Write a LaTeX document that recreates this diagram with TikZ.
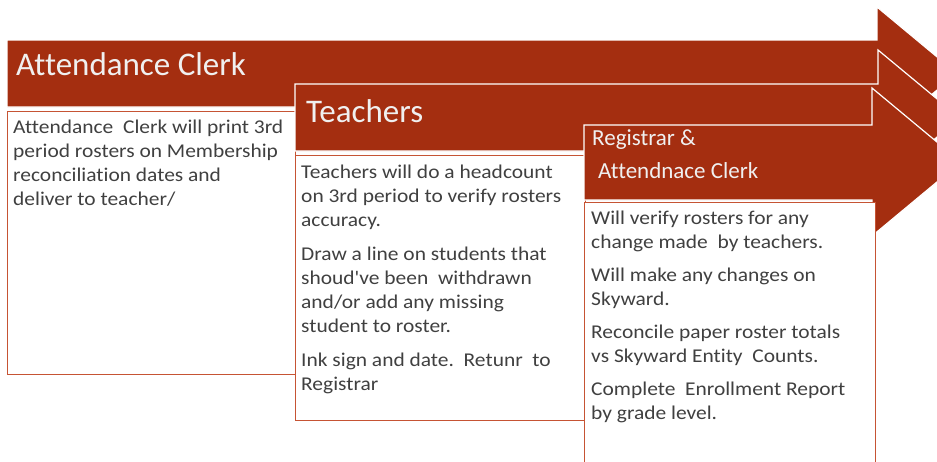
\documentclass[tikz,border=0pt]{standalone}
\usepackage{fontspec}
\setmainfont[Ligatures=NoCommon]{Carlito}
\newfontfamily\notefont[FakeStretch=1.1,Ligatures=NoCommon]{Carlito}
\definecolor{rust}{RGB}{164,46,16}
\definecolor{rustline}{RGB}{198,84,52}
\definecolor{inkgray}{RGB}{64,64,64}
\begin{document}
\begin{tikzpicture}[x=1pt,y=-1pt,
    band/.style={fill=rust,draw=white,line width=1.2pt},
    notebox/.style={fill=white,draw=rustline,line width=1pt},
    bigtitle/.style={anchor=base west,inner sep=0pt,text=white!94!black,font=\fontsize{33}{38}\selectfont},
    smalltitle/.style={anchor=base west,inner sep=0pt,text=white!94!black,font=\fontsize{23}{28}\selectfont},
    notetext/.style={anchor=base west,inner sep=0pt,align=left,text=inkgray,font=\notefont\fontsize{19.5}{24}\selectfont}]

    \useasboundingbox (0,0) rectangle (937,461);
    \clip (0,0) rectangle (937,461);

    % first step
    \draw[band] (7,40) -- (877,40) -- (877,7) -- (957,73.5) -- (877,140) -- (877,107) -- (7,107) -- cycle;
    \draw[notebox] (7,111) rectangle (295,374);

    % second step
    \draw[band] (295,84) -- (878,84) -- (878,50) -- (960,118) -- (878,186) -- (878,151) -- (295,151) -- cycle;
    \draw[notebox] (295,155) rectangle (585,420);

    % third step
    \draw[band] (584,125) -- (872,125) -- (872,88) -- (961,162) -- (872,236) -- (872,200) -- (584,200) -- cycle;
    \draw[notebox] (584,202) rectangle (875,475);

    \node[bigtitle] (clerkTitle) at (16,75) {Attendance Clerk};
    \node[bigtitle] (teachTitle) at (306,122) {Teachers};
    \node[smalltitle] (regTitle) at (592,145) {Registrar \&};
    \node[smalltitle] (regTitleB) at (598,178) {Attendnace Clerk};

    % multi-line notes sit on the baseline of their last line
    \node[notetext] (clerkNote) at (13,205) {Attendance\ \ Clerk will print 3rd\\
        period rosters on Membership\\
        reconciliation dates and\\
        deliver to teacher/};

    \node[notetext] (teachNote) at (301,390) {Teachers will do a headcount\\
        on 3rd period to verify rosters\\
        accuracy.\\[10pt]
        Draw a line on students that\\
        shoud've been\ \ withdrawn\\
        and/or add any missing\\
        student to roster.\\[10pt]
        Ink sign and date.\ \ Retunr\ \ to\\
        Registrar};

    \node[notetext] (regNote) at (591,419) {Will verify rosters for any\\
        change made\ \ by teachers.\\[9pt]
        Will make any changes on\\
        Skyward.\\[9pt]
        Reconcile paper roster totals\\
        vs Skyward Entity\ \ Counts.\\[9pt]
        Complete\ \ Enrollment Report\\
        by grade level.};

\end{tikzpicture}
\end{document}
